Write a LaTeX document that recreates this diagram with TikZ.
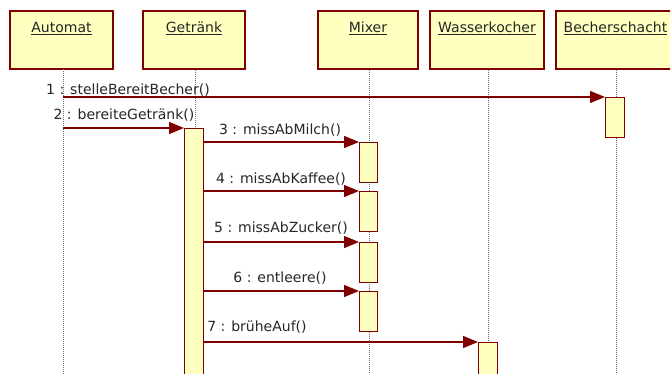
\documentclass[tikz,border=0pt]{standalone}
\usepackage{fontspec}
\setmainfont{DejaVu Sans}
\usetikzlibrary{arrows.meta}
\definecolor{umlred}{RGB}{128,0,0}
\definecolor{umlyellow}{RGB}{255,255,192}
\begin{document}
\begin{tikzpicture}[x=1pt,y=-1pt,
  every node/.style={font=\fontsize{14}{16}\selectfont},
  objbox/.style={draw=umlred, fill=umlyellow, line width=1.3pt, rectangle, inner sep=0pt, minimum height=58pt},
  objname/.style={anchor=base, inner sep=0pt, text=black!85},
  lifeline/.style={draw=black!55, line width=0.9pt, dash pattern=on 1pt off 1pt},
  actbox/.style={draw=umlred, fill=umlyellow, line width=1.3pt, rectangle, inner sep=0pt, minimum width=19pt, anchor=north west},
  msg/.style={draw=umlred, line width=1.3pt, -{Triangle[length=15pt,width=12pt]}},
  msglabel/.style={anchor=base, inner sep=0pt, text=black!85}]
\useasboundingbox (0,0) rectangle (670,374);
\clip (0,0) rectangle (670,374);
% headers
\node[objbox, minimum width=103pt] (A) at (61.5,40) {};
\node[objbox, minimum width=102pt] (G) at (194,40) {};
\node[objbox, minimum width=100pt] (M) at (368,40) {};
\node[objbox, minimum width=114pt] (W) at (487,40) {};
\node[objbox, minimum width=124pt] (B) at (618,40) {};
\node[objname] (At) at (61.5,33) {\underline{Automat}};
\node[objname] (Gt) at (194,33) {\underline{Getränk}};
\node[objname] (Mt) at (368,33) {\underline{Mixer}};
\node[objname] (Wt) at (487,33) {\underline{Wasserkocher}};
\node[objname] (Bt) at (615.5,33) {\underline{Becherschacht}};
% lifelines
\coordinate (Aend) at (63,374);
\coordinate (Gend) at (195,374);
\coordinate (Mend) at (369,374);
\coordinate (Wend) at (488,374);
\coordinate (Bend) at (616,374);
\coordinate (Al) at (63,69);
\draw[lifeline] (Al) -- (Aend);
\draw[lifeline] (Gend |- G.south) -- (Gend);
\draw[lifeline] (Mend |- M.south) -- (Mend);
\draw[lifeline] (Wend |- W.south) -- (Wend);
\draw[lifeline] (Bend |- B.south) -- (Bend);
% activations
\node[actbox, minimum height=260pt] (Ga) at (184,128) {};
\node[actbox, minimum height=40pt] (Ba) at (605,97) {};
\node[actbox, minimum width=18pt, minimum height=40pt] (M1) at (359,142) {};
\node[actbox, minimum width=18pt, minimum height=40pt] (M2) at (359,191) {};
\node[actbox, minimum width=18pt, minimum height=40pt] (M3) at (359,242) {};
\node[actbox, minimum width=18pt, minimum height=40pt] (M4) at (359,291) {};
\node[actbox, minimum height=40pt] (Wa) at (478,342) {};
% messages
\draw[msg] (Al |- Ba.north) -- (Ba.north west);
\draw[msg] (Al |- Ga.north) -- (Ga.north west);
\draw[msg] (Ga.east |- M1.north) -- (M1.north west);
\draw[msg] (Ga.east |- M2.north) -- (M2.north west);
\draw[msg] (Ga.east |- M3.north) -- (M3.north west);
\draw[msg] (Ga.east |- M4.north) -- (M4.north west);
\draw[msg] (Ga.east |- Wa.north) -- (Wa.north west);
% labels
\node[msglabel] (L1) at (128,95) {1 : stelleBereitBecher()};
\node[msglabel] (L2) at (124,120) {2 : bereiteGetränk()};
\node[msglabel] (L3) at (280,135) {3 : missAbMilch()};
\node[msglabel] (L4) at (281,184) {4 : missAbKaffee()};
\node[msglabel] (L5) at (281,233) {5 : missAbZucker()};
\node[msglabel] (L6) at (280,283) {6 : entleere()};
\node[msglabel] (L7) at (257,331) {7 : brüheAuf()};
\end{tikzpicture}
\end{document}
